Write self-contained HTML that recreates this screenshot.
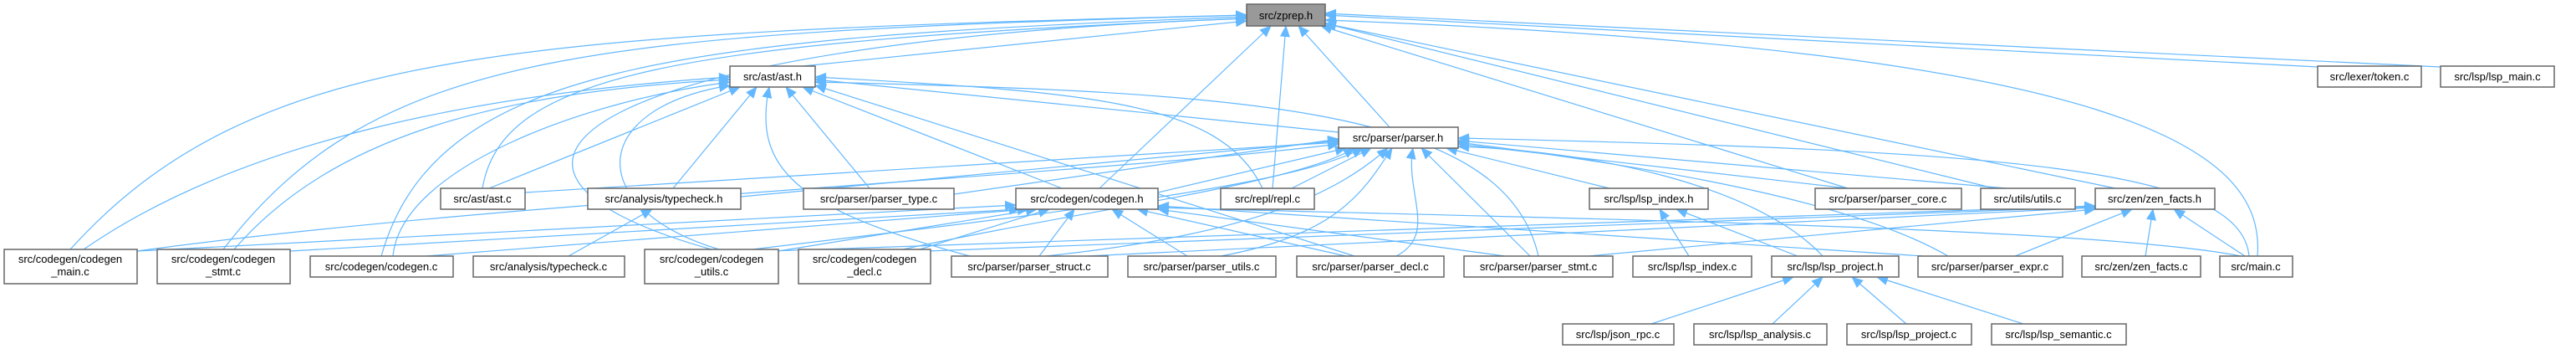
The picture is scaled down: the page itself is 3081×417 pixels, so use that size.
<!DOCTYPE html>
<html><head><meta charset="utf-8"><style>
html,body{margin:0;padding:0;background:#fff;width:3081px;height:417px;overflow:hidden}
svg text{font-family:"Liberation Sans",sans-serif;font-size:13px;fill:#000}
.n{fill:#fff;stroke:#666;stroke-width:1.5}
.e{stroke:#63b8ff;stroke-width:1.2;fill:none}
</style></head><body>
<svg width="3081" height="417" xmlns="http://www.w3.org/2000/svg">
<defs><marker id="a" markerUnits="userSpaceOnUse" markerWidth="14" markerHeight="12" refX="13" refY="6" orient="auto"><path d="M0,0 L14,6 L0,12 z" fill="#63b8ff"/></marker></defs>
<g class="e" marker-end="url(#a)">
<!-- to zprep -->
<line x1="960" y1="79" x2="1491" y2="25"/>
<path d="M84,298 C300,60 600,40 1491,18"/>
<path d="M267,298 C450,60 700,40 1491,18"/>
<path d="M456,306 C520,80 800,45 1491,20"/>
<path d="M851,298 C500,200 700,50 1491,22"/>
<path d="M577,225 C600,90 800,50 1491,22"/>
<line x1="1315" y1="225" x2="1520" y2="31"/>
<line x1="1522" y1="225" x2="1538" y2="31"/>
<line x1="1662" y1="152" x2="1553" y2="31"/>
<line x1="2772" y1="80" x2="1585" y2="18"/>
<line x1="2919" y1="80" x2="1585" y2="16"/>
<line x1="2530" y1="225" x2="1585" y2="28"/>
<path d="M2700,306 C2710,180 2550,60 1585,24"/>
<line x1="2385" y1="225" x2="1585" y2="28"/>
<line x1="2210" y1="225" x2="1580" y2="31"/>
<!-- to ast.h -->
<line x1="585" y1="225" x2="885" y2="104"/>
<line x1="805" y1="225" x2="905" y2="104"/>
<line x1="1040" y1="225" x2="940" y2="104"/>
<line x1="1270" y1="225" x2="960" y2="104"/>
<line x1="1601" y1="158" x2="975" y2="95"/>
<path d="M1510,225 C1460,120 1300,110 975,92"/>
<path d="M1840,306 C1800,130 1500,110 975,98"/>
<path d="M100,298 C300,160 600,110 873,92"/>
<path d="M280,298 C400,160 600,110 873,95"/>
<path d="M470,306 C480,200 700,120 873,98"/>
<path d="M860,298 C700,250 700,130 873,102"/>
<path d="M1160,306 C950,250 900,200 920,104"/>
<line x1="1620" y1="306" x2="975" y2="102"/>
<!-- to parser.h -->
<line x1="628" y1="230" x2="1601" y2="170"/>
<line x1="886" y1="235" x2="1601" y2="168"/>
<line x1="1141" y1="232" x2="1601" y2="166"/>
<line x1="1385" y1="230" x2="1610" y2="177"/>
<line x1="1545" y1="225" x2="1640" y2="177"/>
<line x1="1925" y1="225" x2="1730" y2="177"/>
<line x1="2210" y1="225" x2="1744" y2="172"/>
<line x1="2400" y1="225" x2="1744" y2="168"/>
<path d="M2690,306 C2680,200 2400,180 1744,165"/>
<path d="M1250,306 C1500,280 1600,230 1660,177"/>
<path d="M1460,306 C1600,280 1630,230 1665,177"/>
<path d="M1670,306 C1720,280 1680,230 1690,177"/>
<line x1="1830" y1="306" x2="1700" y2="177"/>
<path d="M2330,306 C2200,230 1900,190 1744,170"/>
<path d="M2180,306 C2100,220 1900,180 1744,175"/>
<path d="M900,298 C1300,250 1550,220 1630,177"/>
<path d="M1080,298 C1300,250 1550,220 1620,177"/>
<path d="M164,300 C600,240 1300,210 1601,172"/>
<!-- to codegen.h -->
<line x1="164" y1="300" x2="1215" y2="245"/>
<line x1="347" y1="300" x2="1220" y2="250"/>
<line x1="510" y1="306" x2="1230" y2="250"/>
<line x1="931" y1="300" x2="1240" y2="250"/>
<line x1="1100" y1="298" x2="1255" y2="250"/>
<line x1="1243" y1="306" x2="1285" y2="250"/>
<line x1="1420" y1="306" x2="1330" y2="250"/>
<line x1="1610" y1="306" x2="1360" y2="250"/>
<line x1="1800" y1="306" x2="1385" y2="250"/>
<path d="M2680,306 C2500,270 1800,260 1385,248"/>
<line x1="2300" y1="306" x2="1385" y2="246"/>
<!-- misc -->
<line x1="680" y1="306" x2="780" y2="250"/>
<line x1="2020" y1="306" x2="1985" y2="250"/>
<line x1="2150" y1="306" x2="2005" y2="250"/>
<line x1="1975" y1="387" x2="2145" y2="331"/>
<line x1="2120" y1="387" x2="2180" y2="331"/>
<line x1="2280" y1="387" x2="2215" y2="331"/>
<line x1="2420" y1="387" x2="2245" y2="331"/>
<line x1="2566" y1="306" x2="2575" y2="250"/>
<line x1="2685" y1="306" x2="2600" y2="250"/>
<line x1="2410" y1="306" x2="2550" y2="250"/>
<line x1="1900" y1="306" x2="2506" y2="250"/>
<line x1="1300" y1="306" x2="2506" y2="248"/>
<line x1="920" y1="300" x2="2506" y2="246"/>
<line x1="1110" y1="300" x2="2506" y2="247"/>
</g>
<g>
<rect x="1491" y="5" width="94" height="26" fill="#999" stroke="#666" stroke-width="1.5"/><text x="1538" y="23" text-anchor="middle">src/zprep.h</text>
<rect class="n" x="873" y="79" width="102" height="25"/><text x="924" y="96" text-anchor="middle">src/ast/ast.h</text>
<rect class="n" x="2772" y="79" width="124" height="25"/><text x="2834" y="96" text-anchor="middle">src/lexer/token.c</text>
<rect class="n" x="2919" y="79" width="136" height="25"/><text x="2987" y="96" text-anchor="middle">src/lsp/lsp_main.c</text>
<rect class="n" x="1601" y="152" width="143" height="25"/><text x="1672" y="169" text-anchor="middle">src/parser/parser.h</text>
<rect class="n" x="527" y="225" width="101" height="25"/><text x="577" y="242" text-anchor="middle">src/ast/ast.c</text>
<rect class="n" x="703" y="225" width="183" height="25"/><text x="794" y="242" text-anchor="middle">src/analysis/typecheck.h</text>
<rect class="n" x="961" y="225" width="180" height="25"/><text x="1051" y="242" text-anchor="middle">src/parser/parser_type.c</text>
<rect class="n" x="1215" y="225" width="170" height="25"/><text x="1300" y="242" text-anchor="middle">src/codegen/codegen.h</text>
<rect class="n" x="1460" y="225" width="112" height="25"/><text x="1516" y="242" text-anchor="middle">src/repl/repl.c</text>
<rect class="n" x="1901" y="225" width="142" height="25"/><text x="1972" y="242" text-anchor="middle">src/lsp/lsp_index.h</text>
<rect class="n" x="2171" y="225" width="175" height="25"/><text x="2258" y="242" text-anchor="middle">src/parser/parser_core.c</text>
<rect class="n" x="2369" y="225" width="113" height="25"/><text x="2425" y="242" text-anchor="middle">src/utils/utils.c</text>
<rect class="n" x="2506" y="225" width="143" height="25"/><text x="2577" y="242" text-anchor="middle">src/zen/zen_facts.h</text>
<rect class="n" x="5" y="298" width="159" height="41"/><text x="84" y="314" text-anchor="middle">src/codegen/codegen</text><text x="84" y="329" text-anchor="middle">_main.c</text>
<rect class="n" x="188" y="298" width="159" height="41"/><text x="267" y="314" text-anchor="middle">src/codegen/codegen</text><text x="267" y="329" text-anchor="middle">_stmt.c</text>
<rect class="n" x="771" y="298" width="160" height="41"/><text x="851" y="314" text-anchor="middle">src/codegen/codegen</text><text x="851" y="329" text-anchor="middle">_utils.c</text>
<rect class="n" x="955" y="298" width="158" height="41"/><text x="1034" y="314" text-anchor="middle">src/codegen/codegen</text><text x="1034" y="329" text-anchor="middle">_decl.c</text>
<rect class="n" x="371" y="306" width="171" height="25"/><text x="456" y="323" text-anchor="middle">src/codegen/codegen.c</text>
<rect class="n" x="566" y="306" width="181" height="25"/><text x="656" y="323" text-anchor="middle">src/analysis/typecheck.c</text>
<rect class="n" x="1138" y="306" width="187" height="25"/><text x="1231" y="323" text-anchor="middle">src/parser/parser_struct.c</text>
<rect class="n" x="1349" y="306" width="177" height="25"/><text x="1437" y="323" text-anchor="middle">src/parser/parser_utils.c</text>
<rect class="n" x="1551" y="306" width="176" height="25"/><text x="1639" y="323" text-anchor="middle">src/parser/parser_decl.c</text>
<rect class="n" x="1751" y="306" width="178" height="25"/><text x="1840" y="323" text-anchor="middle">src/parser/parser_stmt.c</text>
<rect class="n" x="1953" y="306" width="142" height="25"/><text x="2024" y="323" text-anchor="middle">src/lsp/lsp_index.c</text>
<rect class="n" x="2119" y="306" width="152" height="25"/><text x="2195" y="323" text-anchor="middle">src/lsp/lsp_project.h</text>
<rect class="n" x="2294" y="306" width="173" height="25"/><text x="2380" y="323" text-anchor="middle">src/parser/parser_expr.c</text>
<rect class="n" x="2490" y="306" width="142" height="25"/><text x="2561" y="323" text-anchor="middle">src/zen/zen_facts.c</text>
<rect class="n" x="2655" y="306" width="87" height="25"/><text x="2698" y="323" text-anchor="middle">src/main.c</text>
<rect class="n" x="1869" y="387" width="133" height="25"/><text x="1935" y="404" text-anchor="middle">src/lsp/json_rpc.c</text>
<rect class="n" x="2026" y="387" width="159" height="25"/><text x="2105" y="404" text-anchor="middle">src/lsp/lsp_analysis.c</text>
<rect class="n" x="2209" y="387" width="149" height="25"/><text x="2283" y="404" text-anchor="middle">src/lsp/lsp_project.c</text>
<rect class="n" x="2382" y="387" width="161" height="25"/><text x="2462" y="404" text-anchor="middle">src/lsp/lsp_semantic.c</text>
</g>
</svg>
</body></html>
